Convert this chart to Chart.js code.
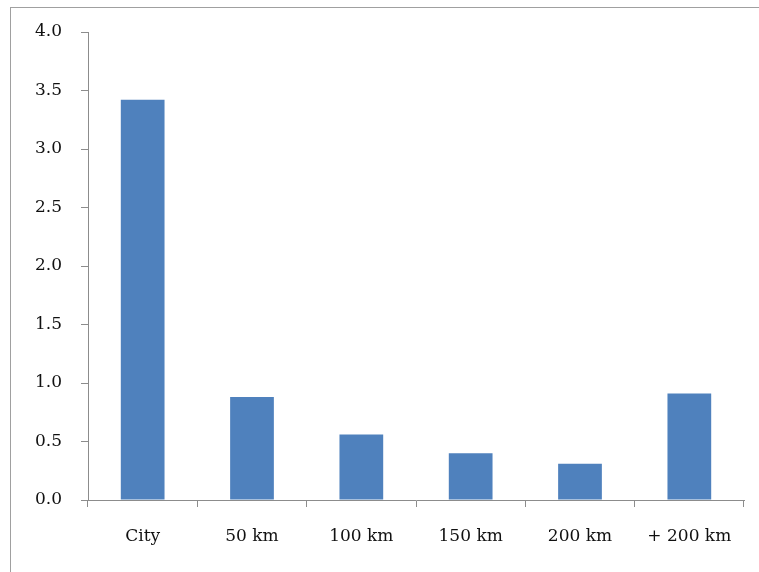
<!DOCTYPE html>
<html>
<head>
<meta charset="utf-8">
<script src="https://cdn.jsdelivr.net/npm/chart.js@4/dist/chart.umd.min.js"></script>
<style>
  html, body { margin: 0; padding: 0; background: #fff; }
  #wrap { position: relative; width: 759px; height: 572px; overflow: hidden; }
  #frame { position: absolute; left: 10px; top: 7px; width: 800px; height: 600px;
           border-left: 1px solid #a0a0a0; border-top: 1px solid #a0a0a0; }
  canvas { position: absolute; left: 0; top: 0; }
</style>
</head>
<body>
<div id="wrap">
  <div id="frame"></div>
  <canvas id="js-chart-bars" width="759" height="572"></canvas>
</div>
<script>
// Chart data
const categories = ['City', '50 km', '100 km', '150 km', '200 km', '+ 200 km'];
const values = [3.42, 0.88, 0.56, 0.40, 0.31, 0.91];
const tickLabels = ['0.0', '0.5', '1.0', '1.5', '2.0', '2.5', '3.0', '3.5', '4.0'];

// Global look
Chart.defaults.font.family = '"DejaVu Serif", "Liberation Serif", serif';
Chart.defaults.font.size = 17;
Chart.defaults.color = '#111';

let axisColor = '#8c8c8c';

let chartBarsCon = document.getElementById('js-chart-bars');

let chartBarsData = {
  labels: categories,
  datasets: [
    {
      label: 'Value',
      backgroundColor: '#4f81bd',
      borderWidth: 0,
      barPercentage: 0.8,
      categoryPercentage: 0.5,
      data: values
    }
  ]
};

let chartBars = new Chart(chartBarsCon, {
  type: 'bar',
  data: chartBarsData,
  options: {
    responsive: false,
    animation: false,
    layout: {padding: {top: 32, right: 15, left: 0, bottom: 0}},
    plugins: {legend: {display: false}, tooltip: {enabled: false}},
    scales: {
      x: {
        grid: {display: true, offset: true, drawOnChartArea: false, drawTicks: true, tickLength: 7, color: axisColor},
        border: {display: true, color: axisColor, width: 1},
        ticks: {padding: 19},
        afterFit: (scale) => { scale.height = 72; }
      },
      y: {
        min: 0,
        max: 4,
        grid: {display: true, drawOnChartArea: false, drawTicks: true, tickLength: 7, color: axisColor},
        border: {display: true, color: axisColor, width: 1},
        ticks: {
          stepSize: 0.5,
          padding: 19,
          callback: (v) => tickLabels[Math.round(v * 2)]
        },
        afterFit: (scale) => { scale.width = 88; }
      }
    }
  }
});
</script>
</body>
</html>
